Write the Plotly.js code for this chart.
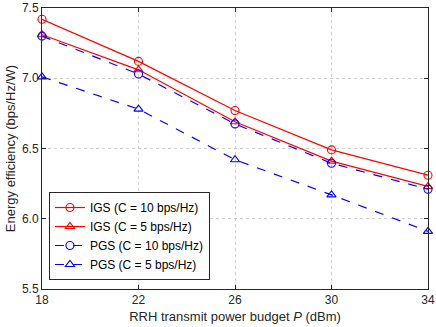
<!DOCTYPE html>
<html><head><meta charset="utf-8">
<script src="https://cdn.plot.ly/plotly-3.0.1.min.js"></script>
<style>html,body{margin:0;padding:0;background:#fff}</style>
</head><body>
<div id="chart" style="width:436px;height:327px"></div>
<script>
const power = [18, 22, 26, 30, 34];
const igs10 = [7.42, 7.12, 6.77, 6.49, 6.31];
const igs5  = [7.31, 7.06, 6.69, 6.41, 6.23];
const pgs10 = [7.30, 7.03, 6.675, 6.395, 6.21];
const pgs5  = [7.01, 6.78, 6.42, 6.17, 5.91];
const names = ['IGS (C = 10 bps/Hz)', 'IGS (C = 5 bps/Hz)', 'PGS (C = 10 bps/Hz)', 'PGS (C = 5 bps/Hz)'];
const yTicks = [5.5, 6.0, 6.5, 7.0, 7.5];
const xTicks = [18, 22, 26, 30, 34];

function tr(y, name, color, dash, symbol) {
  return {x: power, y: y, name: name, type: 'scatter', mode: 'lines+markers',
    line: {color: color, width: 1.2, dash: dash},
    marker: {symbol: symbol, size: 8, color: color, line: {color: color, width: 1.1}},
    cliponaxis: false};
}
const data = [
  tr(igs10, names[0], '#ff0000', 'solid', 'circle-open'),
  tr(igs5, names[1], '#ff0000', 'solid', 'triangle-up-open'),
  tr(pgs10, names[2], '#0000ff', 'dash', 'circle-open'),
  tr(pgs5, names[3], '#0000ff', 'dash', 'triangle-up-open')
];
const axisCommon = {
  showline: true, mirror: 'ticks', linecolor: '#262626', linewidth: 1,
  ticks: 'inside', ticklen: 4, tickcolor: '#262626',
  showgrid: true, gridcolor: '#d0d0d0', griddash: 'dot', gridwidth: 1,
  zeroline: false, tickfont: {family: 'Liberation Sans, Arial, sans-serif', size: 12, color: '#262626'}
};
const layout = {
  width: 436, height: 327,
  margin: {l: 42, r: 8, t: 8, b: 38},
  paper_bgcolor: '#fff', plot_bgcolor: '#fff',
  font: {family: 'Liberation Sans, Arial, sans-serif', size: 12, color: '#262626'},
  xaxis: Object.assign({}, axisCommon, {range: [18, 34], tickvals: xTicks,
    title: {text: 'RRH transmit power budget <i>P</i> (dBm)', font: {size: 13, color: '#262626'}, standoff: 5}}),
  yaxis: Object.assign({}, axisCommon, {range: [5.5, 7.5], tickvals: yTicks, tickformat: '.1f',
    title: {text: 'Energy efficiency (bps/Hz/W)', font: {size: 13, color: '#262626'}, standoff: 3}}),
  legend: {x: 0.018, y: 0.032, xanchor: 'left', yanchor: 'bottom',
    bordercolor: '#262626', borderwidth: 1, bgcolor: '#fff',
    font: {size: 12, color: '#000'}, tracegroupgap: 0, itemwidth: 30},
  showlegend: true
};
Plotly.newPlot('chart', data, layout, {displayModeBar: false, staticPlot: true});
</script>
</body></html>
